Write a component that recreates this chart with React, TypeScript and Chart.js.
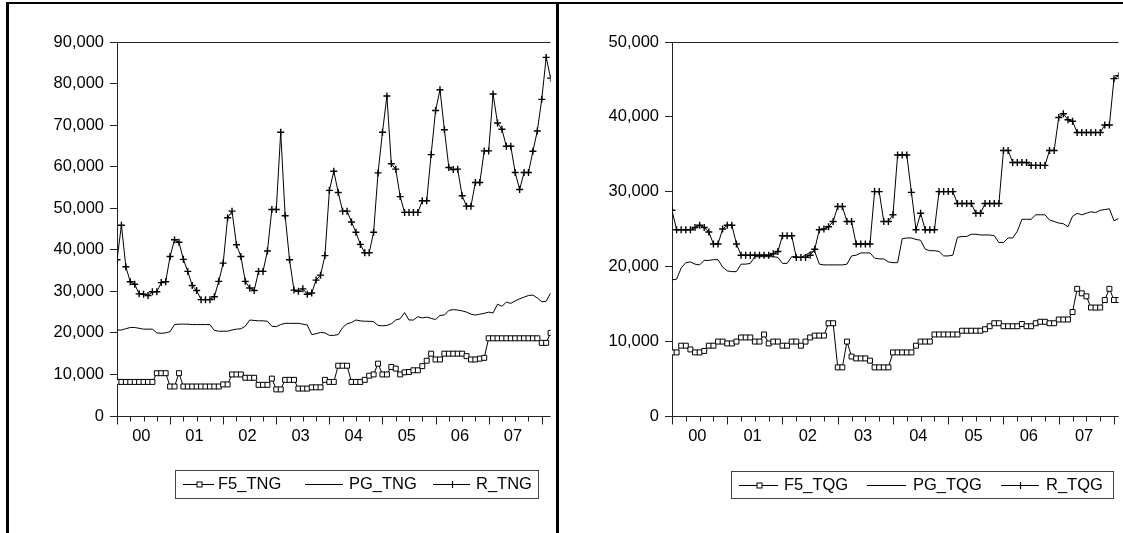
import React, { useEffect, useRef } from 'react';
import { Chart, registerables } from 'chart.js';

Chart.register(...registerables);

const FONT = "'Liberation Sans', Arial, Helvetica, sans-serif";
const FONT_SIZE = 16.5;

const YEAR_LABELS = ['00', '01', '02', '03', '04', '05', '06', '07'];

// ---------- Left panel (TNG), monthly from 2000M01 ----------
const TNG_NAMES = ['F5_TNG', 'PG_TNG', 'R_TNG'];
const F5_TNG = [
  8200, 8200, 8200, 8200, 8200, 8200, 8200, 8200, 8200, 10300,
  10300, 10300, 7100, 7100, 10300, 7100, 7100, 7100, 7100, 7100,
  7100, 7100, 7100, 7100, 7600, 7600, 10000, 10000, 10000, 9200,
  9200, 9200, 7500, 7500, 7500, 9000, 6400, 6400, 8700, 8700,
  8700, 6600, 6600, 6600, 6900, 6900, 6900, 8700, 8200, 8200,
  12100, 12100, 12100, 8200, 8200, 8200, 8700, 9700, 10000, 12600,
  10000, 10000, 11800, 11400, 10000, 10500, 10600, 11000, 11000, 12000,
  13300, 15000, 13600, 13600, 15000, 15000, 15000, 15000, 15000, 14400,
  13600, 13600, 13800, 14000, 18700, 18700, 18700, 18700, 18700, 18700,
  18700, 18700, 18700, 18700, 18700, 18700, 17600, 17600, 20000,
];
const PG_TNG = [
  20700, 20700, 21000, 21300, 21300, 21100, 20900, 20900, 20900, 20000,
  19900, 20000, 20300, 22000, 22100, 22100, 22100, 22000, 22000, 22000,
  22000, 22000, 20600, 20400, 20400, 20400, 20700, 20900, 21000, 21600,
  23100, 23000, 22900, 22900, 22800, 21600, 21500, 22000, 22300, 22300,
  22300, 22300, 22100, 21900, 19600, 19800, 20100, 20000, 19400, 19400,
  19600, 21300, 22200, 22500, 23100, 22900, 22800, 22800, 22700, 21800,
  21700, 21800, 22200, 23100, 23400, 24900, 23100, 23100, 23900, 23600,
  23800, 23500, 23200, 24200, 24300, 25400, 25600, 25500, 25300, 25000,
  24500, 24300, 24500, 24700, 25000, 24800, 26900, 26400, 27400, 27100,
  27700, 28200, 28600, 29000, 29100, 28400, 27500, 27600, 29600,
];
const R_TNG = [
  37600, 45900, 35900, 32300, 31700, 29400, 29300, 29000, 29900, 29900,
  32100, 32300, 38400, 42400, 41800, 37700, 34800, 31400, 30200, 28000,
  28000, 28000, 28700, 32400, 36800, 47700, 49300, 41200, 38400, 32400,
  30800, 30200, 34800, 34800, 39700, 49700, 49700, 68300, 48200, 37600,
  30300, 30000, 30600, 29300, 29600, 32700, 33900, 38600, 54300, 58900,
  53800, 49300, 49300, 46700, 44200, 41300, 39300, 39300, 44200, 58500,
  68300, 77000, 60700, 59400, 52800, 49000, 49000, 49000, 49000, 51800,
  51800, 62900, 73500, 78500, 68900, 59800, 59300, 59400, 53000, 50500,
  50500, 56200, 56200, 63800, 63800, 77500, 70500, 69000, 64900, 64900,
  58600, 54500, 58600, 58600, 63700, 68600, 76200, 86300, 81300,
];

// ---------- Right panel (TQG), monthly from 2000M01 ----------
const TQG_NAMES = ['F5_TQG', 'PG_TQG', 'R_TQG'];
const F5_TQG = [
  8500, 8500, 9400, 9400, 8900, 8500, 8500, 8700, 9400, 9400,
  9950, 9950, 9700, 9700, 9950, 10500, 10500, 10500, 9950, 9950,
  10900, 9700, 9950, 9950, 9400, 9400, 9950, 9950, 9400, 9950,
  10500, 10750, 10750, 10750, 12400, 12400, 6500, 6500, 9950, 7950,
  7700, 7700, 7700, 7400, 6500, 6500, 6500, 6500, 8500, 8500,
  8500, 8500, 8500, 9400, 9950, 9950, 9950, 10900, 10900, 10900,
  10900, 10900, 10900, 11400, 11400, 11400, 11400, 11400, 11600, 12000,
  12400, 12400, 12000, 12000, 12000, 12000, 12300, 12000, 12000, 12400,
  12600, 12600, 12400, 12400, 12900, 12900, 12900, 13900, 17000, 16400,
  16000, 14500, 14500, 14500, 15500, 17000, 15500, 15500,
];
const PG_TQG = [
  18200, 18300, 19800, 20500, 20600, 20300, 20200, 20800, 20800, 20900,
  20900, 19900, 19400, 19300, 19300, 20300, 20300, 20400, 21300, 21300,
  21300, 21300, 21300, 21200, 20400, 20400, 21300, 21300, 21200, 21500,
  21900, 22000, 20300, 20200, 20200, 20200, 20200, 20200, 20300, 21400,
  21500, 21800, 21800, 21800, 21100, 21000, 21000, 20600, 20500, 20500,
  23700, 23800, 23800, 23600, 23500, 22300, 22100, 22100, 22000, 21400,
  21400, 21500, 23900, 24000, 24000, 24300, 24300, 24200, 24200, 24200,
  24100, 23200, 23200, 23800, 23800, 24700, 26300, 26300, 26300, 26900,
  26900, 26900, 26200, 26000, 25800, 25700, 25300, 26700, 27100, 26900,
  27100, 27300, 27200, 27500, 27600, 27700, 26100, 26400,
];
const R_TQG = [
  27500, 24900, 24900, 24900, 24900, 25200, 25500, 25200, 24600, 23000,
  23000, 25000, 25500, 25500, 23000, 21500, 21500, 21500, 21500, 21500,
  21500, 21500, 21700, 22000, 24100, 24100, 24100, 21200, 21200, 21200,
  21500, 22300, 24900, 25000, 25300, 26000, 28000, 28000, 26000, 26000,
  23000, 23000, 23000, 23000, 30000, 30000, 26000, 26000, 26900, 34900,
  34900, 34900, 29900, 24900, 27100, 24900, 24900, 24900, 30000, 30000,
  30000, 30000, 28400, 28400, 28400, 28400, 27100, 27100, 28400, 28400,
  28400, 28400, 35500, 35500, 33900, 33900, 33900, 33900, 33500, 33500,
  33500, 33500, 35500, 35500, 39900, 40400, 39600, 39400, 37900, 37900,
  37900, 37900, 37900, 37900, 38900, 38900, 45100, 45500,
];

type LegendGeo = { box: number[]; lines: number[][]; texts: number[] };

function eviewsPlugin(names: string[], lg: LegendGeo) {
  return {
    id: 'eviewsFrame',
    afterDraw(chart: any) {
      const { ctx, chartArea } = chart;
      const { left, right, top, bottom } = chartArea;
      const x = chart.scales.x;
      ctx.save();
      ctx.strokeStyle = '#222';
      ctx.lineWidth = 1;
      // top edge of plot box
      const ty = Math.round(top) + 0.5;
      ctx.beginPath();
      ctx.moveTo(left, ty);
      ctx.lineTo(right, ty);
      ctx.stroke();
      // x axis line and ticks
      const by = Math.round(bottom) + 0.5;
      ctx.beginPath();
      ctx.moveTo(left, by);
      ctx.lineTo(right, by);
      ctx.stroke();
      for (let m = 0; m <= x.max + 1e-6; m += 3) {
        const px = Math.round(x.getPixelForValue(m)) + 0.5;
        const len = m % 12 === 0 ? 8 : 5;
        ctx.beginPath();
        ctx.moveTo(px, by);
        ctx.lineTo(px, by + len);
        ctx.stroke();
      }
      ctx.fillStyle = '#000';
      ctx.font = `${FONT_SIZE}px ${FONT}`;
      ctx.textAlign = 'center';
      ctx.textBaseline = 'middle';
      YEAR_LABELS.forEach((lab, k) => {
        const m = 12 * k + 5.5;
        if (m <= x.max) ctx.fillText(lab, x.getPixelForValue(m), bottom + 20);
      });
      // legend
      ctx.strokeStyle = '#444';
      const [bx0, by0, bx1, by1] = lg.box;
      ctx.strokeRect(bx0 + 0.5, by0 + 0.5, bx1 - bx0, by1 - by0);
      const ym = Math.round((by0 + by1) / 2) + 0.5;
      ctx.textAlign = 'left';
      names.forEach((nm, k) => {
        const [l0, l1] = lg.lines[k];
        ctx.strokeStyle = '#000';
        ctx.lineWidth = 1;
        ctx.beginPath();
        ctx.moveTo(l0, ym);
        ctx.lineTo(l1, ym);
        ctx.stroke();
        const mx = Math.round((l0 + l1) / 2) + 0.5;
        if (k === 0) {
          ctx.fillStyle = '#fff';
          ctx.fillRect(mx - 2.5, ym - 2.5, 5, 5);
          ctx.strokeRect(mx - 2.5, ym - 2.5, 5, 5);
        } else if (k === 2) {
          ctx.lineWidth = 1.2;
          ctx.beginPath();
          ctx.moveTo(mx, ym - 3.5);
          ctx.lineTo(mx, ym + 3.5);
          ctx.moveTo(mx - 3.5, ym);
          ctx.lineTo(mx + 3.5, ym);
          ctx.stroke();
        }
        ctx.fillStyle = '#000';
        ctx.fillText(nm, lg.texts[k], ym);
      });
      ctx.restore();
    },
  };
}

type PanelProps = {
  left: number;
  width: number;
  yAxisWidth: number;
  yMax: number;
  xMax: number;
  labelPad: number;
  names: string[];
  f5: number[];
  pg: number[];
  r: number[];
  legend: LegendGeo;
};

const HEIGHT = 533;

function Panel(p: PanelProps) {
  const ref = useRef<HTMLCanvasElement>(null);
  useEffect(() => {
    const pts = (arr: number[]) => arr.map((v, i) => ({ x: i, y: v }));
    const chart = new Chart(ref.current as HTMLCanvasElement, {
      type: 'line',
      data: {
        datasets: [
          {
            label: p.names[0],
            data: pts(p.f5),
            borderColor: '#000',
            borderWidth: 1,
            pointStyle: 'rect',
            pointRadius: 3.5,
            pointBackgroundColor: '#fff',
            pointBorderColor: '#000',
            pointBorderWidth: 1,
          },
          {
            label: p.names[1],
            data: pts(p.pg),
            borderColor: '#000',
            borderWidth: 1,
            pointRadius: 0,
          },
          {
            label: p.names[2],
            data: pts(p.r),
            borderColor: '#000',
            borderWidth: 1,
            pointStyle: 'cross',
            pointRadius: 3.5,
            pointBorderColor: '#000',
            pointBorderWidth: 1.4,
          },
        ],
      } as any,
      options: {
        responsive: false,
        animation: false,
        events: [],
        layout: { padding: { left: 0, right: 0, top: 42, bottom: 117 } },
        plugins: { legend: { display: false }, tooltip: { enabled: false } },
        scales: {
          x: { type: 'linear', min: 0, max: p.xMax, display: false },
          y: {
            min: 0,
            max: p.yMax,
            afterFit: (s: any) => {
              s.width = p.yAxisWidth;
            },
            ticks: {
              stepSize: 10000,
              padding: p.labelPad,
              color: '#000',
              font: { family: FONT, size: FONT_SIZE },
              callback: (v: any) => Number(v).toLocaleString('en-US'),
            },
            grid: { drawOnChartArea: false, drawTicks: true, tickLength: 7, color: '#222' },
            border: { display: true, color: '#222', width: 1 },
          },
        },
      } as any,
      plugins: [eviewsPlugin(p.names, p.legend)],
    });
    return () => chart.destroy();
  }, []);
  return (
    <canvas
      ref={ref}
      width={p.width}
      height={HEIGHT}
      style={{ position: 'absolute', left: p.left, top: 0, width: p.width, height: HEIGHT }}
    />
  );
}

const RIGHT_LEFT = 558;

export default function App() {
  return (
    <div
      style={{
        position: 'fixed',
        left: 0,
        top: 0,
        width: 1123,
        height: 533,
        overflow: 'hidden',
        background: '#fff',
      }}
    >
      <Panel
        left={0}
        width={556}
        yAxisWidth={117}
        yMax={90000}
        xMax={98}
        labelPad={6}
        names={TNG_NAMES}
        f5={F5_TNG}
        pg={PG_TNG}
        r={R_TNG}
        legend={{ box: [175, 470, 538, 498], lines: [[183, 214], [305, 343], [433, 470]], texts: [218, 349, 476] }}
      />
      <Panel
        left={RIGHT_LEFT}
        width={566}
        yAxisWidth={114}
        yMax={50000}
        xMax={97}
        labelPad={6}
        names={TQG_NAMES}
        f5={F5_TQG}
        pg={PG_TQG}
        r={R_TQG}
        legend={{
          box: [731 - RIGHT_LEFT, 471, 1113 - RIGHT_LEFT, 498],
          lines: [[739 - RIGHT_LEFT, 778 - RIGHT_LEFT], [867 - RIGHT_LEFT, 906 - RIGHT_LEFT], [1001 - RIGHT_LEFT, 1039 - RIGHT_LEFT]],
          texts: [784 - RIGHT_LEFT, 913 - RIGHT_LEFT, 1046 - RIGHT_LEFT],
        }}
      />
      <div style={{ position: 'absolute', left: 6, top: 2, width: 3, height: 531, background: '#000' }} />
      <div style={{ position: 'absolute', left: 6, top: 2, width: 1117, height: 2, background: '#000' }} />
      <div style={{ position: 'absolute', left: 556, top: 2, width: 3, height: 531, background: '#000' }} />
    </div>
  );
}
